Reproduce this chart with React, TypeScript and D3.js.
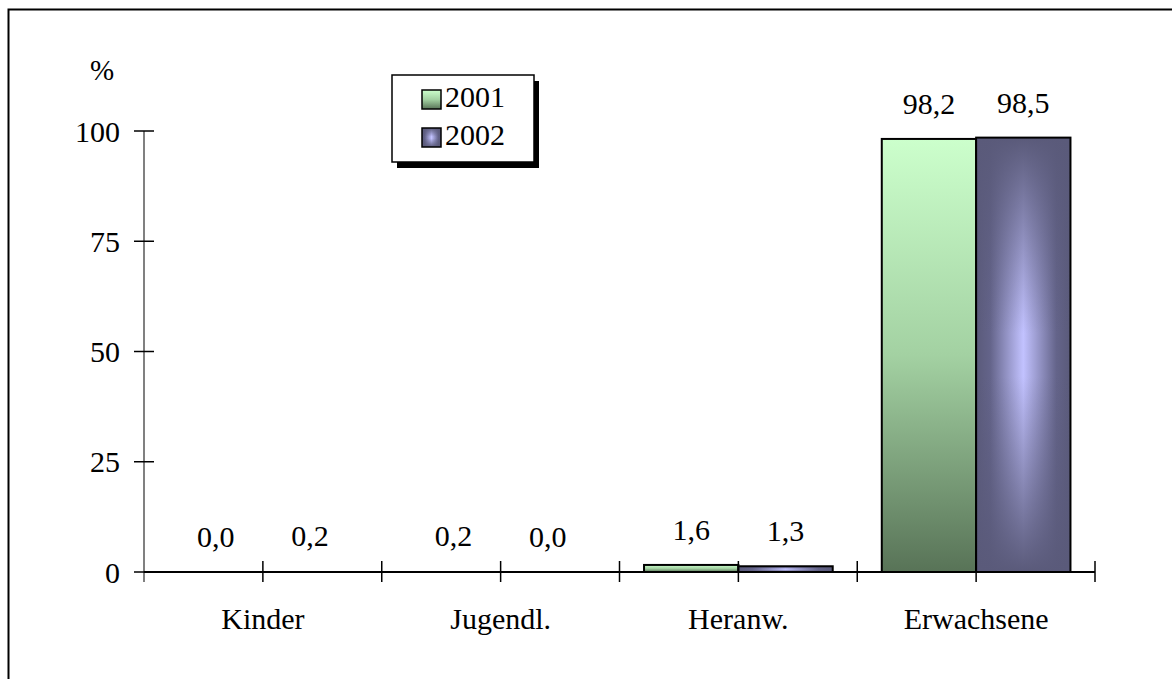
import * as d3 from 'd3';

const categories = ['Kinder', 'Jugendl.', 'Heranw.', 'Erwachsene'];
const series = ['2001', '2002'];
const values2001 = [0.0, 0.2, 1.6, 98.2];
const values2002 = [0.2, 0.0, 1.3, 98.5];
const yTicks = [0, 25, 50, 75, 100];

const W = 1172;
const H = 679;
const PLOT = { left: 144, right: 1095, top: 131, bottom: 572 };
const FONT = '"Liberation Serif", "Times New Roman", serif';
const FS = 30;

const fmt = (v: number) => v.toFixed(1).replace('.', ',');

export default function App() {
  const x = d3
    .scaleBand<string>()
    .domain(categories)
    .range([PLOT.left, PLOT.right])
    .paddingInner(0)
    .paddingOuter(0);
  const bw = x.bandwidth();
  const inner = d3
    .scaleBand<string>()
    .domain(series)
    .range([0, bw])
    .paddingInner(0)
    .paddingOuter(0.26);
  const y = d3.scaleLinear().domain([0, 100]).range([PLOT.bottom, PLOT.top]);

  // ticks on every band edge and every band centre
  const xTicks: number[] = [];
  categories.forEach((c) => {
    xTicks.push(x(c)!);
    xTicks.push(x(c)! + bw / 2);
  });
  xTicks.push(PLOT.right);

  const bars = categories.flatMap((c, i) => [
    { cat: c, s: '2001', v: values2001[i] },
    { cat: c, s: '2002', v: values2002[i] },
  ]);

  return (
    <svg
      width={W}
      height={H}
      style={{ position: 'absolute', left: 0, top: 0, background: '#fff' }}
      fontFamily={FONT}
    >
      <defs>
        <linearGradient id="g2001" x1="0" y1="0" x2="0" y2="1">
          <stop offset="0%" stopColor="#ccffcc" />
          <stop offset="50%" stopColor="#a3d1a2" />
          <stop offset="100%" stopColor="#587357" />
        </linearGradient>
        <linearGradient id="g2002h" x1="0" y1="0" x2="1" y2="0">
          <stop offset="0%" stopColor="#5a5a7a" />
          <stop offset="15%" stopColor="#64648a" />
          <stop offset="50%" stopColor="#c2c2ff" />
          <stop offset="85%" stopColor="#64648a" />
          <stop offset="100%" stopColor="#5a5a7a" />
        </linearGradient>
        <linearGradient id="g2002v" x1="0" y1="0" x2="0" y2="1">
          <stop offset="0%" stopColor="#5a5a7a" stopOpacity={1} />
          <stop offset="45%" stopColor="#5a5a7a" stopOpacity={0} />
          <stop offset="55%" stopColor="#5a5a7a" stopOpacity={0} />
          <stop offset="100%" stopColor="#5a5a7a" stopOpacity={1} />
        </linearGradient>
      </defs>

      {/* outer frame */}
      <rect x={8.5} y={9.5} width={W + 20} height={H + 20} fill="#fff" stroke="#000" strokeWidth={2} />

      {/* y axis */}
      <line x1={PLOT.left} x2={PLOT.left} y1={y(100)} y2={PLOT.bottom + 10} stroke="#808080" strokeWidth={2} />
      {yTicks.map((t) => (
        <g key={t}>
          <line x1={PLOT.left - 10} x2={PLOT.left + 10} y1={y(t)} y2={y(t)} stroke="#000" strokeWidth={1.5} />
          <text x={PLOT.left - 24} y={y(t)} dy="0.35em" textAnchor="end" fontSize={FS}>
            {t}
          </text>
        </g>
      ))}
      <text x={102} y={80} textAnchor="middle" fontSize={29}>
        %
      </text>

      {/* bars */}
      {bars.map((b) => {
        const bx = x(b.cat)! + inner(b.s)!;
        const by = y(b.v);
        const h = PLOT.bottom - by;
        return (
          <g key={b.cat + b.s}>
            {h > 1.5 && (
              <>
                <rect
                  x={bx}
                  y={by}
                  width={inner.bandwidth()}
                  height={h}
                  fill={b.s === '2001' ? 'url(#g2001)' : 'url(#g2002h)'}
                />
                {b.s === '2002' && (
                  <rect x={bx} y={by} width={inner.bandwidth()} height={h} fill="url(#g2002v)" />
                )}
                <rect x={bx} y={by} width={inner.bandwidth()} height={h} fill="none" stroke="#000" strokeWidth={2} />
              </>
            )}
            <text
              x={bx + inner.bandwidth() / 2}
              y={by - 25}
              textAnchor="middle"
              fontSize={FS}
            >
              {fmt(b.v)}
            </text>
          </g>
        );
      })}

      {/* x axis */}
      <line x1={PLOT.left} x2={PLOT.right} y1={PLOT.bottom} y2={PLOT.bottom} stroke="#000" strokeWidth={2} />
      {xTicks.slice(1).map((t, i) => (
        <line key={i} x1={t} x2={t} y1={PLOT.bottom - 11} y2={PLOT.bottom + 10} stroke="#000" strokeWidth={1.5} />
      ))}
      {categories.map((c) => (
        <text key={c} x={x(c)! + bw / 2} y={629} textAnchor="middle" fontSize={FS}>
          {c}
        </text>
      ))}

      {/* legend */}
      <rect x={397} y={81} width={142} height={87} fill="#000" />
      <rect x={392} y={75} width={142} height={87} fill="#fff" stroke="#000" strokeWidth={1.5} />
      {series.map((s, i) => {
        const ly = 90 + i * 38;
        return (
          <g key={s}>
            <rect x={422} y={ly} width={19} height={19} fill={s === '2001' ? 'url(#g2001)' : 'url(#g2002h)'} />
            {s === '2002' && <rect x={422} y={ly} width={19} height={19} fill="url(#g2002v)" />}
            <rect x={422} y={ly} width={19} height={19} fill="none" stroke="#000" strokeWidth={1.5} />
            <text x={445} y={ly + 17} fontSize={FS}>
              {s}
            </text>
          </g>
        );
      })}
    </svg>
  );
}
